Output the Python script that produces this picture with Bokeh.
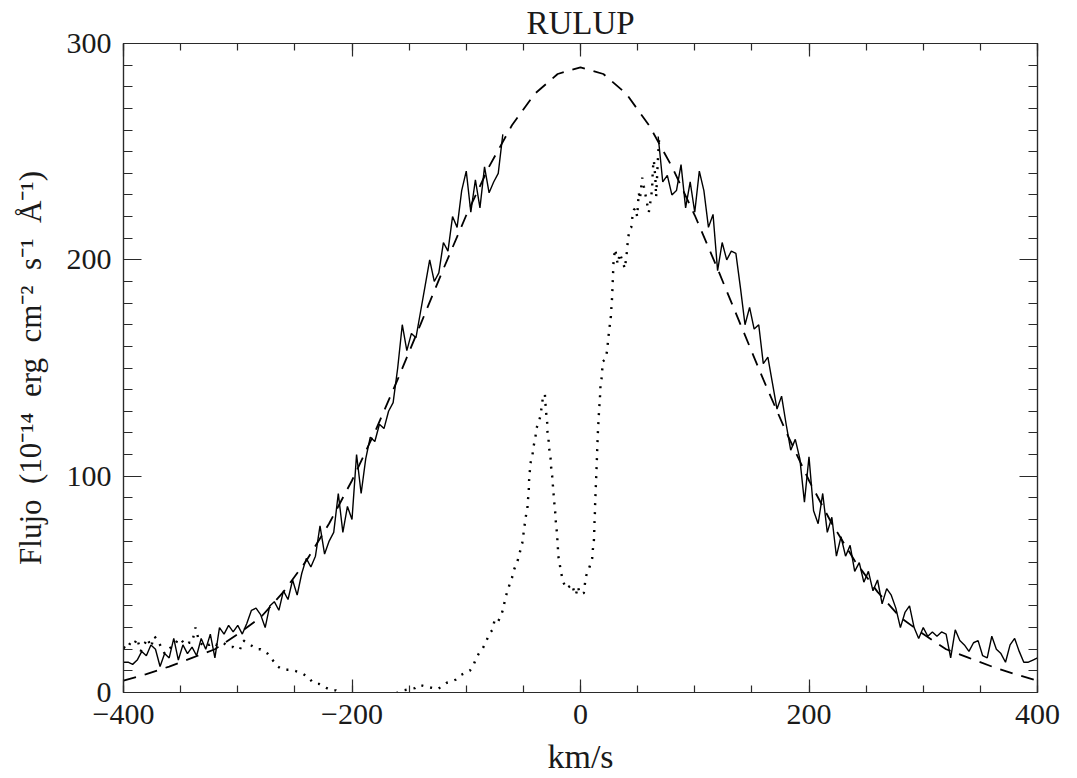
from bokeh.plotting import figure
from bokeh.models import Range1d, LinearAxis, SingleIntervalTicker, CustomLabelingPolicy
from bokeh.embed import file_html
from bokeh.resources import INLINE

# ---------------- data ----------------
title_text = "RULUP"
x_label = "km/s"
y_label = "Flujo\u2002(10\u207b\u00b9\u2074\u2002erg\u2002cm\u207b\u00b2\u2002s\u207b\u00b9\u2002\u00c5\u207b\u00b9)"

# dashed model profile
v_model = [-400, -380, -360, -340, -320, -300, -280, -260, -240, -220, -200,
           -180, -160, -140, -120, -100, -80, -60, -40, -20, 0,
           20, 40, 60, 80, 100, 120, 140, 160, 180, 200,
           220, 240, 260, 280, 300, 320, 340, 360, 380, 400]
f_model = [5.5, 8.5, 12, 16, 20, 27, 34.7, 46.5, 60.9, 78.1, 98,
           120.4, 144.7, 170.2, 195.8, 220.6, 243.1, 262.2, 276.8, 285.9, 289,
           285.9, 276.8, 262.2, 243.1, 220.6, 195.8, 170.2, 144.7, 120.4, 98,
           78.1, 60.9, 46.5, 34.7, 27, 20, 16, 12, 8.5, 5.5]

# solid observed profile, blue wing
v_blue = [-400, -396, -392, -388, -384, -380, -376, -372, -368, -364, -360, -356,
          -352, -348, -344, -340, -336, -332, -328, -324, -320, -316, -312, -308,
          -304, -300, -296, -292, -288, -284, -280, -276, -272, -268, -264, -260,
          -256, -252, -248, -244, -240, -236, -232, -228, -224, -220, -216, -212,
          -208, -204, -200, -196, -192, -188, -184, -180, -176, -172, -168, -164,
          -160, -156, -152, -148, -144, -140, -136, -132, -128, -124, -120, -116,
          -112, -108, -104, -100, -96, -92, -88, -84, -80, -76, -72, -68]
f_blue = [14, 14, 13, 15, 19, 17, 22, 20, 12, 18, 16, 25,
          15, 22, 18, 21, 17, 25, 20, 27, 16, 30, 27, 31,
          28, 31, 27, 32, 38, 39, 36, 30, 40, 42, 38, 47,
          43, 52, 45, 55, 62, 58, 63, 77, 64, 70, 74, 92,
          74, 86, 80, 110, 92, 108, 118, 116, 124, 122, 130, 134,
          150, 170, 158, 166, 164, 176, 188, 200, 190, 194, 208, 204,
          220, 215, 232, 241, 222, 237, 224, 243, 231, 236, 240, 258]

# solid observed profile, red wing
v_red = [68, 72, 76, 80, 84, 88, 92, 96, 100, 104, 108, 112,
         116, 120, 124, 128, 132, 136, 140, 144, 148, 152, 156, 160,
         164, 168, 172, 176, 180, 184, 188, 192, 196, 200, 204, 208,
         212, 216, 220, 224, 228, 232, 236, 240, 244, 248, 252, 256,
         260, 264, 268, 272, 276, 280, 284, 288, 292, 296, 300, 304,
         308, 312, 316, 320, 324, 328, 332, 336, 340, 344, 348, 352,
         356, 360, 364, 368, 372, 376, 380, 384, 388, 392, 396, 400]
f_red = [257, 236, 239, 230, 232, 244, 224, 236, 222, 241, 232, 215,
         221, 195, 208, 200, 204, 203, 187, 170, 178, 168, 170, 152,
         155, 143, 131, 137, 124, 112, 117, 108, 88, 109, 84, 78,
         92, 74, 81, 63, 72, 63, 68, 56, 60, 51, 56, 47,
         52, 41, 48, 45, 39, 30, 37, 40, 30, 25, 30, 26,
         28, 26, 28, 27, 16, 29, 24, 22, 19, 23, 24, 17,
         16, 26, 20, 18, 14, 22, 25, 19, 14, 14, 15, 16]

# dotted absorbed profile
v_dot = [-400, -397, -394, -391, -388, -385, -382, -379, -376, -373, -370, -367,
         -364, -361, -358, -355, -352, -349, -346, -343, -340, -337, -334, -331,
         -328, -325, -322, -319, -316, -313, -310, -307, -304, -301, -298, -295,
         -292, -289, -286, -283, -280, -277, -274, -271, -268, -265, -262, -259,
         -256, -253, -250, -247, -244, -241, -238, -235, -232, -229, -226, -222,
         -218, -214, -210, -205, -200, -195, -190, -185, -180, -175, -170, -165,
         -160, -155, -150, -145, -141, -137, -133, -129, -125, -121, -117, -113,
         -109, -105, -101, -97, -94, -92, -89, -86, -83, -80, -77, -75,
         -72, -70, -68, -66, -64, -62, -60, -58, -55, -53, -51, -50,
         -49, -48, -46.5, -46, -45.3, -45, -44.4, -43.8, -42, -41, -39.4, -38.8,
         -37, -35, -34, -33, -31.2, -30.6, -30, -29.2, -29, -28, -27.5, -26.3,
         -25.7, -24.8, -24.2, -23.6, -23, -22.2, -21.8, -21, -20.4, -19.8, -19.4, -18.1,
         -16.8, -15.1, -12.3, -7.3, -5.8, -4.1, -2.3, -0.6, 2.9, 3.8, 5, 7.9,
         10.2, 10.8, 11.7, 12, 12.3, 12.6, 12.8, 13.1, 13.4, 13.7, 14, 14.3,
         14.6, 14.9, 15.2, 15.6, 16, 16.6, 17.2, 17.5, 18.4, 19, 19.5, 21.9,
         23.3, 24, 24.8, 25.7, 26.6, 27.2, 27.7, 28, 28.3, 28.6, 28.9, 29.8,
         30.5, 31.5, 32.6, 34.4, 37, 38.8, 40, 40.9, 41.4, 42.9, 44.4, 45.2,
         46.7, 48, 49.6, 51, 52, 54, 55.4, 56.9, 58.3, 59.8, 61.8, 62.7,
         63.3, 64.2, 65.5, 66.2, 67.7, 68.5, 69]
f_dot = [21, 20, 23, 22, 25, 19, 22, 25, 21, 26, 24, 21,
         18, 20, 21, 22, 25, 24, 22, 23, 23, 30, 24, 22,
         23, 22, 23, 22, 23, 23, 22, 21, 21, 20, 20, 24,
         23, 22, 21, 20, 20, 19, 18, 16, 14, 12, 11, 10.5,
         10.5, 10.5, 10, 9.5, 9, 8, 7, 5, 4, 4, 3, 2,
         1, 1, 0, -1, -1, -1, -1, -1, -1, -1, -1, -1,
         0, 1, 1.5, 2, 3.5, 3, 2.5, 2, 1.5, 3, 4.5, 5,
         6, 8, 9, 10, 12, 15, 18, 20, 23, 27, 29, 34,
         33, 35, 38, 43, 47, 50, 53, 57, 61, 65, 69, 73,
         77, 81, 85, 89, 93, 98, 102, 106, 110, 114, 118, 122,
         124, 128, 132, 136, 138, 133, 129, 125, 121, 117, 113, 109,
         104, 100, 96, 92, 88, 84, 80, 76, 72, 67, 63, 59,
         55, 51, 48, 50, 47, 45, 49, 45.6, 46, 50, 54, 58,
         62, 66, 70, 74, 79, 83, 87, 91, 95, 99, 103, 107,
         112, 116, 120, 124, 128, 133, 138, 142, 145, 149, 153, 154,
         158, 162, 166, 170, 174, 179, 183, 187, 191, 195, 199, 203,
         205, 201, 198, 203, 199, 196, 201, 205, 209, 214, 215, 219,
         223, 224, 220, 231, 228, 238, 234, 230, 226, 222, 229, 233,
         242, 246, 238, 229, 246, 253, 258]

# ---------------- figure ----------------
FONT = "Liberation Serif"
INK = "#1a1a1a"
AX = "#2a2a2a"

p = figure(frame_width=914, frame_height=649,
           x_range=Range1d(-400, 400), y_range=Range1d(0, 300),
           output_backend="svg", toolbar_location=None,
           min_border_left=123, min_border_right=40,
           min_border_top=42, min_border_bottom=87,
           title=title_text, x_axis_label=x_label, y_axis_label=y_label)

p.background_fill_color = "white"
p.border_fill_color = "white"
p.outline_line_color = AX
p.outline_line_width = 1.2
p.xgrid.visible = False
p.ygrid.visible = False

p.title.align = "center"
p.title.text_font = FONT
p.title.text_font_size = "33px"
p.title.text_font_style = "normal"
p.title.text_color = INK
p.title.standoff = 5

hide_labels = CustomLabelingPolicy(code="""
try {
  for (const i of Array.from(indices)) { indices.set(i, false) }
} catch (e) {}
return indices
""")


def style(ax, maj, mnr, labels=True, label_size="31px"):
    ax.major_tick_in = maj
    ax.major_tick_out = 0
    ax.minor_tick_in = mnr
    ax.minor_tick_out = 0
    ax.axis_line_color = AX
    ax.axis_line_width = 1.2
    ax.major_tick_line_color = AX
    ax.major_tick_line_width = 1.2
    ax.minor_tick_line_color = AX
    ax.minor_tick_line_width = 1.2
    if labels:
        ax.major_label_text_font = FONT
        ax.major_label_text_font_size = "30px"
        ax.major_label_text_color = INK
        ax.axis_label_text_font = FONT
        ax.axis_label_text_font_size = label_size
        ax.axis_label_text_font_style = "normal"
        ax.axis_label_text_color = INK
    else:
        ax.major_label_text_font_size = "0px"
        ax.major_label_standoff = 0
        ax.major_label_policy = hide_labels


xa = p.xaxis[0]
xa.ticker = SingleIntervalTicker(interval=200, num_minor_ticks=4)
style(xa, 13, 7, label_size="34px")
xa.major_label_standoff = 12
xa.axis_label_standoff = 11

ya = p.yaxis[0]
ya.ticker = SingleIntervalTicker(interval=100, num_minor_ticks=10)
style(ya, 18, 9, label_size="31px")
ya.major_label_standoff = 12
ya.axis_label_standoff = 16

top = LinearAxis(ticker=SingleIntervalTicker(interval=200, num_minor_ticks=4))
style(top, 13, 7, labels=False)
p.add_layout(top, "above")

right = LinearAxis(ticker=SingleIntervalTicker(interval=100, num_minor_ticks=10))
style(right, 18, 9, labels=False)
p.add_layout(right, "right")

# curves
p.line(v_model, f_model, line_color="black", line_width=1.8, line_dash="13 9")
p.line(v_blue, f_blue, line_color="black", line_width=1.4)
p.line(v_red, f_red, line_color="black", line_width=1.4)
p.line(v_dot, f_dot, line_color="black", line_width=2.4, line_dash="2 7")

open("out.html", "w").write(file_html(p, INLINE))
